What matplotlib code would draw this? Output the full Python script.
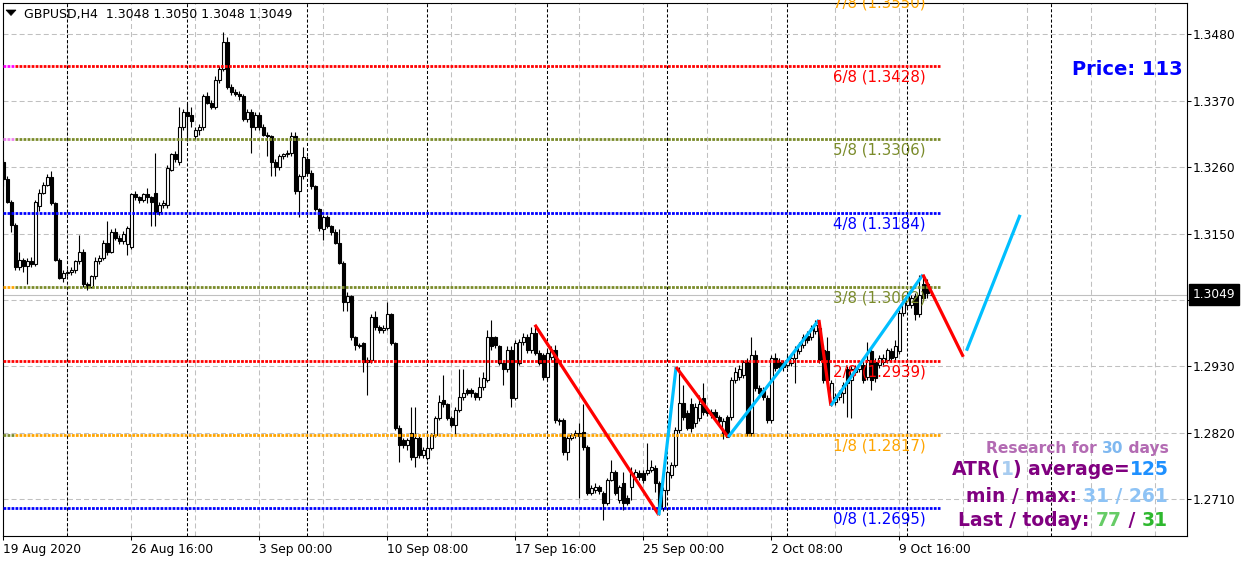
import matplotlib
matplotlib.use("Agg")
import matplotlib.pyplot as plt
from matplotlib.patches import Polygon
from matplotlib.transforms import offset_copy

plt.rcParams["lines.scale_dashes"] = False

W, H = 1250, 563

# H4 candles, GBPUSD
opens = [
    1.3268, 1.3240, 1.3203, 1.3165, 1.3095, 1.3107, 1.3097, 1.3104, 1.3100, 1.3195,
    1.3218, 1.3231, 1.3243, 1.3200, 1.3107, 1.3077, 1.3085, 1.3087, 1.3089, 1.3104,
    1.3120, 1.3066, 1.3062, 1.3079, 1.3104, 1.3110, 1.3135, 1.3120, 1.3152, 1.3143,
    1.3137, 1.3132, 1.3128, 1.3215, 1.3210, 1.3206, 1.3215, 1.3210, 1.3218, 1.3185,
    1.3198, 1.3198, 1.3256, 1.3281, 1.3269, 1.3327, 1.3351, 1.3347, 1.3311, 1.3322,
    1.3326, 1.3377, 1.3367, 1.3359, 1.3405, 1.3422, 1.3468, 1.3392, 1.3384, 1.3381,
    1.3377, 1.3339, 1.3352, 1.3326, 1.3347, 1.3326, 1.3314, 1.3311, 1.3269, 1.3261,
    1.3278, 1.3281, 1.3284, 1.3311, 1.3220, 1.3245, 1.3273, 1.3251, 1.3228, 1.3190,
    1.3157, 1.3177, 1.3162, 1.3152, 1.3135, 1.3102, 1.3037, 1.3046, 1.2978, 1.2966,
    1.2969, 1.2938, 1.2941, 1.3012, 1.2996, 1.2991, 1.2994, 1.3016, 1.2969, 1.2828,
    1.2808, 1.2800, 1.2820, 1.2780, 1.2812, 1.2784, 1.2779, 1.2795, 1.2817, 1.2845,
    1.2875, 1.2867, 1.2845, 1.2833, 1.2858, 1.2880, 1.2891, 1.2891, 1.2886, 1.2880,
    1.2896, 1.2908, 1.2979, 1.2978, 1.2963, 1.2936, 1.2925, 1.2958, 1.2878, 1.2936,
    1.2971, 1.2979, 1.2958, 1.2986, 1.2953, 1.2949, 1.2913, 1.2946, 1.2958, 1.2842,
    1.2842, 1.2789, 1.2812, 1.2817, 1.2820, 1.2822, 1.2797, 1.2721, 1.2726, 1.2731,
    1.2721, 1.2704, 1.2742, 1.2755, 1.2709, 1.2737, 1.2712, 1.2731, 1.2747, 1.2754,
    1.2754, 1.2754, 1.2759, 1.2762, 1.2737, 1.2696, 1.2726, 1.2750, 1.2767, 1.2825,
    1.2870, 1.2853, 1.2867, 1.2837, 1.2845, 1.2878, 1.2858, 1.2855, 1.2855, 1.2847,
    1.2820, 1.2847, 1.2847, 1.2908, 1.2913, 1.2916, 1.2938, 1.2820, 1.2949, 1.2895,
    1.2891, 1.2878, 1.2842, 1.2944, 1.2938, 1.2936, 1.2933, 1.2936, 1.2944, 1.2955,
    1.2966, 1.2981, 1.2979, 1.2988, 1.2994, 1.2958, 1.2955, 1.2870, 1.2871, 1.2880,
    1.2886, 1.2925, 1.2908, 1.2920, 1.2925, 1.2933, 1.2913, 1.2955, 1.2938, 1.2933,
    1.2938, 1.2941, 1.2955, 1.2946, 1.2955, 1.3019, 1.3032, 1.3032, 1.3046, 1.3016,
    1.3066, 1.3066, 1.3048,
]
highs = [
    1.3273, 1.3245, 1.3206, 1.3168, 1.3119, 1.3110, 1.3110, 1.3112, 1.3206, 1.3223,
    1.3236, 1.3248, 1.3253, 1.3203, 1.3110, 1.3089, 1.3092, 1.3094, 1.3107, 1.3148,
    1.3124, 1.3069, 1.3082, 1.3112, 1.3115, 1.3140, 1.3170, 1.3157, 1.3160, 1.3148,
    1.3155, 1.3163, 1.3218, 1.3220, 1.3213, 1.3218, 1.3226, 1.3213, 1.3284, 1.3203,
    1.3206, 1.3264, 1.3284, 1.3286, 1.3359, 1.3356, 1.3367, 1.3359, 1.3326, 1.3331,
    1.3381, 1.3384, 1.3372, 1.3411, 1.3427, 1.3483, 1.3475, 1.3397, 1.3389, 1.3386,
    1.3381, 1.3356, 1.3356, 1.3351, 1.3352, 1.3331, 1.3318, 1.3314, 1.3273, 1.3281,
    1.3284, 1.3289, 1.3318, 1.3318, 1.3248, 1.3294, 1.3278, 1.3256, 1.3231, 1.3193,
    1.3180, 1.3180, 1.3165, 1.3157, 1.3157, 1.3104, 1.3054, 1.3049, 1.2981, 1.2969,
    1.2971, 1.2946, 1.3016, 1.3021, 1.2999, 1.2999, 1.3037, 1.3019, 1.2971, 1.2833,
    1.2812, 1.2812, 1.2862, 1.2862, 1.2817, 1.2797, 1.2813, 1.2820, 1.2848, 1.2883,
    1.2916, 1.2870, 1.2848, 1.2862, 1.2925, 1.2925, 1.2895, 1.2895, 1.2888, 1.2913,
    1.2920, 1.2991, 1.3007, 1.2981, 1.2966, 1.2939, 1.2963, 1.2963, 1.2974, 1.2976,
    1.2986, 1.2984, 1.2996, 1.2999, 1.2958, 1.2953, 1.2958, 1.2963, 1.2966, 1.2845,
    1.2845, 1.2817, 1.2820, 1.2825, 1.2837, 1.2867, 1.2800, 1.2734, 1.2737, 1.2734,
    1.2724, 1.2745, 1.2775, 1.2759, 1.2734, 1.2755, 1.2717, 1.2764, 1.2760, 1.2759,
    1.2759, 1.2803, 1.2775, 1.2767, 1.2740, 1.2731, 1.2759, 1.2772, 1.2830, 1.2929,
    1.2900, 1.2858, 1.2878, 1.2870, 1.2883, 1.2903, 1.2862, 1.2860, 1.2860, 1.2850,
    1.2845, 1.2850, 1.2913, 1.2929, 1.2933, 1.2941, 1.2944, 1.2978, 1.2958, 1.2900,
    1.2896, 1.2883, 1.2949, 1.2953, 1.2944, 1.2941, 1.2949, 1.2953, 1.2963, 1.2971,
    1.2984, 1.2988, 1.2999, 1.3007, 1.3002, 1.2966, 1.2979, 1.2908, 1.2886, 1.2891,
    1.2905, 1.2930, 1.2930, 1.2933, 1.2939, 1.2941, 1.2971, 1.2960, 1.2944, 1.2949,
    1.2950, 1.2961, 1.2960, 1.2974, 1.3024, 1.3041, 1.3052, 1.3049, 1.3052, 1.3082,
    1.3079, 1.3074, 1.3050,
]
lows = [
    1.3228, 1.3200, 1.3152, 1.3090, 1.3090, 1.3087, 1.3066, 1.3094, 1.3097, 1.3187,
    1.3215, 1.3228, 1.3198, 1.3104, 1.3074, 1.3070, 1.3080, 1.3082, 1.3085, 1.3100,
    1.3062, 1.3057, 1.3060, 1.3075, 1.3100, 1.3107, 1.3115, 1.3117, 1.3140, 1.3133,
    1.3132, 1.3115, 1.3124, 1.3205, 1.3201, 1.3203, 1.3201, 1.3162, 1.3162, 1.3180,
    1.3193, 1.3193, 1.3253, 1.3268, 1.3264, 1.3322, 1.3303, 1.3327, 1.3306, 1.3314,
    1.3322, 1.3364, 1.3356, 1.3356, 1.3400, 1.3419, 1.3389, 1.3380, 1.3377, 1.3372,
    1.3336, 1.3334, 1.3284, 1.3322, 1.3322, 1.3311, 1.3278, 1.3245, 1.3245, 1.3256,
    1.3273, 1.3276, 1.3278, 1.3215, 1.3177, 1.3240, 1.3248, 1.3223, 1.3187, 1.3155,
    1.3140, 1.3160, 1.3148, 1.3132, 1.3100, 1.3021, 1.3021, 1.2974, 1.2958, 1.2961,
    1.2920, 1.2883, 1.2936, 1.2991, 1.2986, 1.2986, 1.2991, 1.2966, 1.2825, 1.2772,
    1.2795, 1.2792, 1.2775, 1.2764, 1.2779, 1.2779, 1.2775, 1.2792, 1.2813, 1.2842,
    1.2862, 1.2842, 1.2830, 1.2817, 1.2855, 1.2875, 1.2883, 1.2880, 1.2875, 1.2875,
    1.2891, 1.2905, 1.2958, 1.2961, 1.2933, 1.2900, 1.2920, 1.2863, 1.2875, 1.2933,
    1.2966, 1.2953, 1.2953, 1.2949, 1.2933, 1.2908, 1.2908, 1.2941, 1.2837, 1.2833,
    1.2784, 1.2775, 1.2808, 1.2812, 1.2712, 1.2792, 1.2717, 1.2717, 1.2721, 1.2719,
    1.2676, 1.2700, 1.2740, 1.2717, 1.2704, 1.2692, 1.2700, 1.2709, 1.2742, 1.2742,
    1.2737, 1.2750, 1.2755, 1.2722, 1.2684, 1.2690, 1.2721, 1.2745, 1.2764, 1.2820,
    1.2842, 1.2825, 1.2822, 1.2830, 1.2840, 1.2850, 1.2848, 1.2845, 1.2842, 1.2835,
    1.2810, 1.2813, 1.2842, 1.2903, 1.2908, 1.2911, 1.2815, 1.2815, 1.2890, 1.2880,
    1.2875, 1.2837, 1.2837, 1.2923, 1.2925, 1.2923, 1.2928, 1.2931, 1.2903, 1.2950,
    1.2961, 1.2969, 1.2974, 1.2984, 1.2936, 1.2903, 1.2903, 1.2865, 1.2866, 1.2875,
    1.2870, 1.2847, 1.2845, 1.2915, 1.2920, 1.2903, 1.2908, 1.2891, 1.2905, 1.2928,
    1.2933, 1.2936, 1.2938, 1.2941, 1.2950, 1.3014, 1.3027, 1.3027, 1.3007, 1.3012,
    1.3039, 1.3044, 1.3048,
]
closes = [
    1.3240, 1.3203, 1.3165, 1.3095, 1.3107, 1.3097, 1.3104, 1.3100, 1.3203, 1.3218,
    1.3231, 1.3243, 1.3200, 1.3107, 1.3077, 1.3085, 1.3087, 1.3089, 1.3104, 1.3120,
    1.3066, 1.3062, 1.3079, 1.3104, 1.3110, 1.3135, 1.3120, 1.3152, 1.3143, 1.3137,
    1.3150, 1.3160, 1.3215, 1.3210, 1.3206, 1.3215, 1.3210, 1.3203, 1.3185, 1.3198,
    1.3201, 1.3259, 1.3281, 1.3273, 1.3327, 1.3351, 1.3344, 1.3336, 1.3322, 1.3326,
    1.3377, 1.3367, 1.3359, 1.3405, 1.3422, 1.3468, 1.3392, 1.3384, 1.3381, 1.3377,
    1.3339, 1.3352, 1.3326, 1.3347, 1.3326, 1.3314, 1.3311, 1.3269, 1.3261, 1.3278,
    1.3281, 1.3284, 1.3311, 1.3220, 1.3245, 1.3276, 1.3251, 1.3228, 1.3190, 1.3160,
    1.3177, 1.3162, 1.3152, 1.3135, 1.3102, 1.3037, 1.3046, 1.2978, 1.2966, 1.2964,
    1.2938, 1.2941, 1.3012, 1.2996, 1.2991, 1.2994, 1.3016, 1.2969, 1.2828, 1.2800,
    1.2800, 1.2808, 1.2780, 1.2812, 1.2784, 1.2792, 1.2795, 1.2817, 1.2845, 1.2871,
    1.2867, 1.2845, 1.2833, 1.2858, 1.2880, 1.2886, 1.2886, 1.2886, 1.2880, 1.2896,
    1.2911, 1.2979, 1.2963, 1.2966, 1.2936, 1.2925, 1.2958, 1.2878, 1.2969, 1.2971,
    1.2979, 1.2958, 1.2986, 1.2953, 1.2936, 1.2913, 1.2953, 1.2958, 1.2842, 1.2840,
    1.2789, 1.2812, 1.2817, 1.2820, 1.2815, 1.2797, 1.2721, 1.2729, 1.2731, 1.2724,
    1.2704, 1.2742, 1.2755, 1.2721, 1.2731, 1.2704, 1.2704, 1.2754, 1.2755, 1.2747,
    1.2742, 1.2759, 1.2764, 1.2737, 1.2696, 1.2726, 1.2755, 1.2767, 1.2825, 1.2870,
    1.2847, 1.2828, 1.2828, 1.2863, 1.2867, 1.2855, 1.2853, 1.2850, 1.2847, 1.2839,
    1.2839, 1.2813, 1.2908, 1.2920, 1.2925, 1.2938, 1.2820, 1.2949, 1.2895, 1.2886,
    1.2880, 1.2842, 1.2944, 1.2928, 1.2929, 1.2929, 1.2941, 1.2944, 1.2958, 1.2966,
    1.2979, 1.2974, 1.2994, 1.2999, 1.2941, 1.2908, 1.2908, 1.2903, 1.2880, 1.2886,
    1.2900, 1.2903, 1.2925, 1.2928, 1.2933, 1.2908, 1.2941, 1.2908, 1.2911, 1.2944,
    1.2944, 1.2958, 1.2944, 1.2963, 1.3019, 1.3036, 1.3046, 1.3044, 1.3016, 1.3049,
    1.3044, 1.3052, 1.3049,
]

date_ticks = [0, 32, 64, 96, 128, 160, 192, 224]
date_labels = ["19 Aug 2020", "26 Aug 16:00", "3 Sep 00:00", "10 Sep 08:00",
               "17 Sep 16:00", "25 Sep 00:00", "2 Oct 08:00", "9 Oct 16:00"]
week_separators = [16, 46, 76, 106, 136, 166, 196, 226, 262]
price_ticks = [1.2710, 1.2820, 1.2930, 1.3040, 1.3150, 1.3260, 1.3370, 1.3480]

# Murrey math levels
murrey_names = ["0/8", "1/8", "2/8", "3/8", "4/8", "5/8", "6/8", "7/8"]
murrey_levels = [1.2695, 1.2817, 1.2939, 1.3062, 1.3184, 1.3306, 1.3428, 1.3550]
murrey_colors = ["#0000FF", "#FFA500", "#FF0000", "#7A8B2A",
                 "#0000FF", "#7A8B2A", "#FF0000", "#FFA500"]
murrey_stub = [None, "#7A8B2A", None, "#FFA500", None, "#EE82EE", "#FF00FF", None]

# zigzag turning points (bar index, price) and the projected leg
zz_x = [132.9, 163.9, 168.2, 181.2, 203.9, 206.9, 229.9, 240.0]
zz_price = [1.2999, 1.2684, 1.2929, 1.2813, 1.3007, 1.2865, 1.3082, 1.2946]
proj_x = [240.8, 254.2]
proj_price = [1.2956, 1.3181]

last_price = 1.3049

fig = plt.figure(figsize=(12.5, 5.63), dpi=100)
ax = fig.add_axes([2.7 / W, 1 - 536 / H, 1184 / W, 533.3 / H])
ax.set_xlim(-0.15, 295.85)
ax.set_ylim(1.26492, 1.35323)

# grid and period separators
for p in price_ticks:
    ax.axhline(p, color="#C0C0C0", lw=0.75, ls=(0, (3.6, 2.2)), zorder=0.5)
for gx in range(0, 296, 16):
    ax.axvline(gx, color="#C0C0C0", lw=0.75, ls=(0, (3.6, 2.2)), zorder=0.5)
for sx in week_separators:
    ax.axvline(sx, color="black", lw=0.75, ls=(0, (2.2, 1.5)), zorder=1)
ax.axhline(last_price, color="#C0C0C0", lw=0.8, zorder=1.2)

# candles
idx = list(range(len(closes)))
body_low = [min(o, c) for o, c in zip(opens, closes)]
body_h = [max(abs(c - o), 0.00003) for o, c in zip(opens, closes)]
face = ["white" if c > o else "black" for o, c in zip(opens, closes)]
ax.vlines(idx, lows, highs, color="black", linewidth=0.8, zorder=3)
ax.bar(idx, body_h, bottom=body_low, width=0.62, color=face,
       edgecolor="black", linewidth=0.8, zorder=4)

# murrey lines + labels
label_tr = offset_copy(ax.transData, fig=fig, x=0, y=-8, units="points")
for name, level, col, stub in zip(murrey_names, murrey_levels, murrey_colors, murrey_stub):
    ax.plot([2.9, 234.2], [level, level], color=col, lw=2.0,
            ls=(0, (2.0, 0.9)), zorder=5)
    ax.plot([-0.15, 2.9], [level, level], color=stub or col, lw=2.0,
            ls=(0, (2.0, 0.9)), zorder=5)
    t = ax.text(207.4, level, f"{name} ({level:.4f})", transform=label_tr,
                color=col, fontsize=10.8, va="center", ha="left", zorder=6)
    t.set_clip_box(ax.bbox)

# zigzag
for i in range(len(zz_x) - 1):
    col = "#FF0000" if zz_price[i + 1] < zz_price[i] else "#00BFFF"
    ax.plot(zz_x[i:i + 2], zz_price[i:i + 2], color=col, lw=2.3,
            solid_capstyle="butt", zorder=7)
ax.plot(proj_x, proj_price, color="#00BFFF", lw=2.3, solid_capstyle="butt", zorder=7)

# axes styling
for sp in ax.spines.values():
    sp.set_color("black")
    sp.set_linewidth(0.8)
ax.yaxis.tick_right()
ax.set_yticks(price_ticks)
ax.set_yticklabels([f"{p:.4f}" for p in price_ticks])
ax.tick_params(axis="y", length=3, width=0.75, pad=1.5, labelsize=8.8, direction="out")
ax.set_xticks(date_ticks)
ax.set_xticklabels(date_labels, ha="left")
ax.tick_params(axis="x", length=3, width=0.75, pad=2, labelsize=8.8, direction="out")

ax.annotate(f"{last_price:.4f}", xy=(1, last_price), xycoords=("axes fraction", "data"),
            xytext=(4.3, 0), textcoords="offset points", ha="left", va="center",
            fontsize=8.8, color="white", annotation_clip=False, zorder=10,
            bbox=dict(boxstyle="square,pad=0.3", fc="black", ec="black"))

# title with the small dropdown triangle
tri = Polygon([(6 / W, 1 - 10 / H), (16 / W, 1 - 10 / H), (11 / W, 1 - 15.5 / H)],
              closed=True, transform=fig.transFigure, fc="black", ec="black", lw=0.5)
fig.patches.append(tri)
fig.text(24 / W, 1 - 18.3 / H,
         f"GBPUSD,H4  {opens[-1]:.4f} {highs[-1]:.4f} {lows[-1]:.4f} {closes[-1]:.4f}",
         fontsize=9, va="baseline", ha="left")

fig.text(1183 / W, 1 - 75 / H, "Price: 113", color="#0000FF", fontsize=14,
         fontweight="bold", ha="right", va="baseline")

fig.canvas.draw()
renderer = fig.canvas.get_renderer()


def text_width(s, size):
    t = fig.text(0, 0, s + "|", fontsize=size, fontweight="bold")
    g = fig.text(0, 0, "|", fontsize=size, fontweight="bold")
    w = t.get_window_extent(renderer).width - g.get_window_extent(renderer).width
    t.remove()
    g.remove()
    return w


def colored_line(parts, right_px, base_px, size):
    full = "".join(s for s, _ in parts)
    left = right_px - text_width(full, size)
    prefix = ""
    for s, c in parts:
        x = left + (text_width(prefix, size) if prefix else 0)
        fig.text(x / W, 1 - base_px / H, s, color=c, fontsize=size,
                 fontweight="bold", ha="left", va="baseline")
        prefix += s


purple = "#800080"
colored_line([("Research for ", "#B36BB3"), ("30", "#7FB8F0"), (" days", "#B36BB3")],
             1169, 453, 11.2)
colored_line([("ATR(", purple), ("1", "#A8CCF0"), (") average=", purple), ("125", "#1E90FF")],
             1169, 475, 13.5)
colored_line([("min / max: ", purple), ("31 / 261", "#8EC3F5")], 1168, 501.5, 13.5)
colored_line([("Last / today: ", purple), ("77", "#66CC66"), (" / ", purple), ("31", "#2EB82E")],
             1168, 526.5, 13.5)

fig.savefig("out.png", dpi=100, facecolor="white")
